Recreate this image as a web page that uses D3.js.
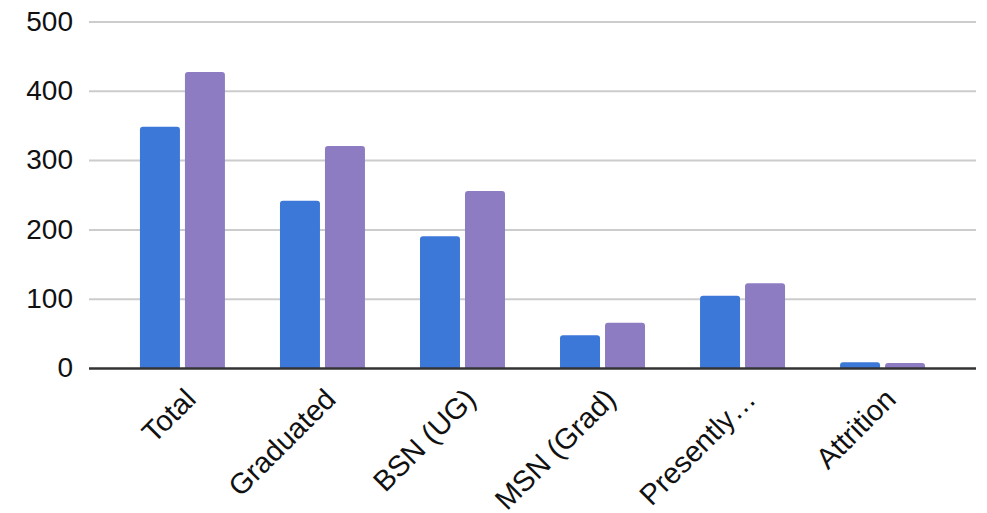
<!DOCTYPE html>
<html>
<head>
<meta charset="utf-8">
<script src="https://cdn.jsdelivr.net/npm/d3@7"></script>
<style>
  body { margin: 0; background: #fff; }
  text { font-family: "Liberation Sans", Arial, sans-serif; fill: #111; }
</style>
</head>
<body>
<svg id="chart" width="987" height="513"></svg>
<script>
const categories = ["Total", "Graduated", "BSN (UG)", "MSN (Grad)", "Presently\u2026", "Attrition"];
const seriesNames = ["series1", "series2"];
const series1 = [349, 242, 191, 48, 105, 9];
const series2 = [428, 321, 256, 66, 123, 8];
const yTicks = [0, 100, 200, 300, 400, 500];

const colors = ["#3c78d8", "#8e7cc3"];

const svg = d3.select("#chart");
const plotLeft = 89, plotRight = 976;
const y0 = 368.5, yTop = 22;

const x = d3.scaleBand()
  .domain(categories)
  .range([112.5, 952.5])
  .paddingInner(0.393)
  .paddingOuter(0.196);

const xs = d3.scaleBand()
  .domain(seriesNames)
  .range([0, x.bandwidth()])
  .paddingInner(0.111);

const y = d3.scaleLinear().domain([0, 500]).range([y0, yTop]);

// gridlines
svg.append("g")
  .selectAll("line")
  .data(yTicks.filter(d => d !== 0))
  .join("line")
  .attr("x1", plotLeft)
  .attr("x2", plotRight)
  .attr("y1", d => y(d))
  .attr("y2", d => y(d))
  .attr("stroke", "#cccccc")
  .attr("stroke-width", 2);

// y tick labels
svg.append("g")
  .selectAll("text")
  .data(yTicks)
  .join("text")
  .attr("x", 73)
  .attr("y", d => y(d) - 1)
  .attr("dy", "0.35em")
  .attr("text-anchor", "end")
  .style("font-size", "28px")
  .text(d => d);

// bars with rounded tops
const rows = categories.map((c, i) => ({ cat: c, vals: [series1[i], series2[i]] }));

function topRounded(x0, w, yt, yb, r) {
  r = Math.min(r, (yb - yt), w / 2);
  return `M${x0},${yb}V${yt + r}Q${x0},${yt} ${x0 + r},${yt}H${x0 + w - r}Q${x0 + w},${yt} ${x0 + w},${yt + r}V${yb}Z`;
}

svg.append("g")
  .selectAll("g")
  .data(rows)
  .join("g")
  .attr("transform", d => `translate(${x(d.cat)},0)`)
  .selectAll("path")
  .data(d => d.vals.map((v, j) => ({ key: seriesNames[j], v: v, j: j })))
  .join("path")
  .attr("d", d => topRounded(xs(d.key), xs.bandwidth(), y(d.v), y0, 3))
  .attr("fill", d => colors[d.j]);

// baseline
svg.append("line")
  .attr("x1", plotLeft)
  .attr("x2", plotRight)
  .attr("y1", y0)
  .attr("y2", y0)
  .attr("stroke", "#333333")
  .attr("stroke-width", 2.5);

// x labels rotated
svg.append("g")
  .selectAll("text")
  .data(categories)
  .join("text")
  .attr("text-anchor", "end")
  .attr("transform", d => `translate(${x(d) + x.bandwidth() / 2 + 15},${401}) rotate(-45)`)
  .style("font-size", "29px")
  .text(d => d);
</script>
</body>
</html>
